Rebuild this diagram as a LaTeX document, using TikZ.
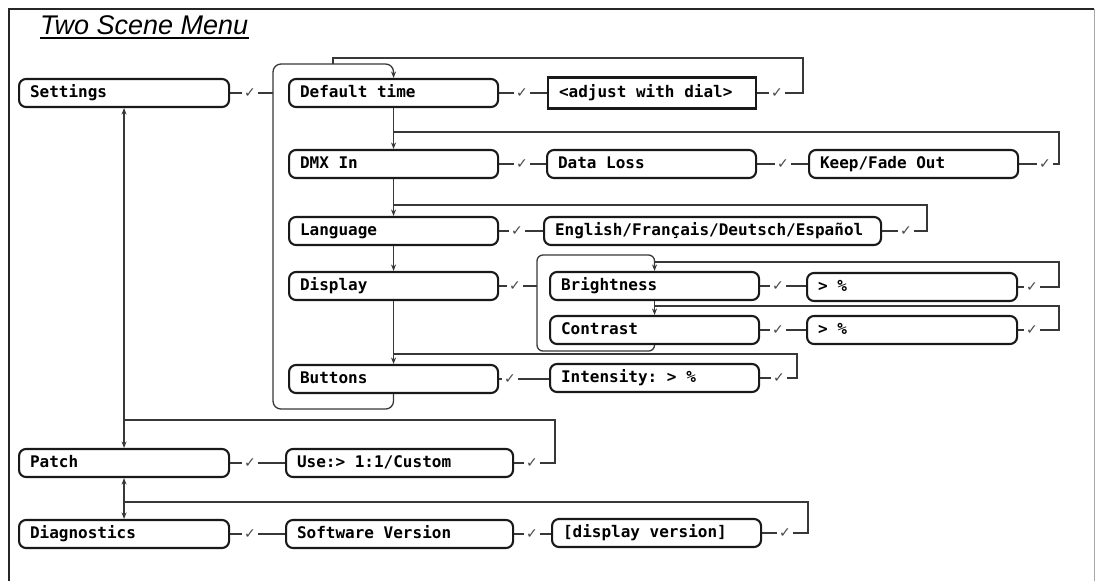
\documentclass[tikz,border=0pt]{standalone}
\usepackage{fontspec}
\setmainfont{Liberation Sans}
\newfontfamily\boxfont{DejaVu Sans Mono}
\newfontfamily\chkfont{DejaVu Sans}
\newcommand\bxf{\boxfont\bfseries\fontsize{16}{18}\selectfont}
\newcommand\fixsp{\spaceskip=9.63pt plus 0pt minus 0pt\relax\xspaceskip=9.63pt plus 0pt minus 0pt\relax}
\usetikzlibrary{arrows.meta}
\begin{document}
\begin{tikzpicture}[x=1pt,y=-1pt,
  mbox/.style={draw=black!90, line width=2.1pt, rounded corners=7pt, minimum height=28pt,
    text width=#1, inner xsep=11pt, inner ysep=0pt, align=left, anchor=west,
    text height=11pt, text depth=3pt, font=\bxf, execute at begin node=\fixsp},
  sbox/.style={mbox=#1, rounded corners=0pt, minimum height=31pt},
  conn/.style={draw=black!78, line width=1.3pt},
  arr/.style={conn, -{Stealth[length=6.5pt,width=5pt]}},
  darr/.style={conn, {Stealth[length=6.5pt,width=5pt]}-{Stealth[length=6.5pt,width=5pt]}},
  chk/.style={fill=white, inner xsep=2pt, inner ysep=1pt, text=black!72,
    font=\chkfont\fontsize{14}{14}\selectfont}
]
\useasboundingbox (0,0) rectangle (1096,581);
% frame
\draw[line width=2pt, black!85] (9,581) -- (9,9) -- (1094,9);
\draw[line width=1pt, black!35] (1094,9) -- (1094,581);
% title
\node[anchor=base west, inner sep=0pt, font=\itshape\fontsize{27}{29}\selectfont] (title) at (40,34) {Two Scene Menu};
\draw[line width=1.4pt] ([yshift=-3.8pt]title.base west) -- ([yshift=-3.8pt]title.base east);

% boxes
\node[mbox=188pt] (set)  at (18,93)  {Settings};
\node[mbox=187pt] (dt)   at (288,93) {Default time};
\node[sbox=186pt] (adj)  at (547,93) {<adjust with dial>};
\node[mbox=187pt] (dmx)  at (288,164) {DMX In};
\node[mbox=187pt] (dl)   at (546,164) {Data Loss};
\node[mbox=187pt] (kfo)  at (808,164) {Keep/Fade Out};
\node[mbox=187pt] (lang) at (288,231) {Language};
\node[mbox=315pt] (eng)  at (543,231) {English/Français/Deutsch/Español};
\node[mbox=187pt] (disp) at (288,286) {Display};
\node[mbox=187pt] (bri)  at (549,286) {Brightness};
\node[mbox=188pt] (pa)   at (806,287) {> \%};
\node[mbox=187pt] (cont) at (549,330) {Contrast};
\node[mbox=188pt] (pb)   at (806,330) {> \%};
\node[mbox=187pt] (but)  at (288,379) {Buttons};
\node[mbox=187pt] (int)  at (549,378) {Intensity: > \%};
\node[mbox=188pt] (pat)  at (18,463) {Patch};
\node[mbox=205pt] (use)  at (285,463) {Use:> 1:1/Custom};
\node[mbox=188pt] (diag) at (18,534) {Diagnostics};
\node[mbox=205pt] (sw)   at (285,534) {Software Version};
\node[mbox=187pt] (dv)   at (551,533) {[display version]};

% main bracket (Settings submenu)
\draw[arr, rounded corners=8pt] (but.south) -- ++(0,15) -| (273,64) -| (dt.north);
\draw[conn] (adj.east) -| (803,58) -| (333,64);
\draw[conn] (set.east) -- (set.east -| 273,0);
\node[chk] at (set.east -| 250,0) {✓};
\draw[conn] (dt.east) -- (adj.west);
\node[chk] at (dt.east -| 522,0) {✓};
\node[chk] at (adj.east -| 777,0) {✓};

% main column
\draw[arr] (dt.south) -- (dmx.north);
\draw[arr] (dmx.south) -- (lang.north);
\draw[arr] (lang.south) -- (disp.north);
\draw[arr] (disp.south) -- (but.north);

% DMX row
\draw[conn] (dmx.east) -- (dl.west);
\node[chk] at (dmx.east -| 522,0) {✓};
\draw[conn] (dl.east) -- (kfo.west);
\node[chk] at (dl.east -| 783,0) {✓};
\draw[conn] (kfo.east) -| (1059,132) -- (dt.south |- 0,132);
\node[chk] at (kfo.east -| 1045,0) {✓};

% Language row
\draw[conn] (lang.east) -- (eng.west);
\node[chk] at (lang.east -| 517,0) {✓};
\draw[conn] (eng.east) -| (927,205) -- (dt.south |- 0,205);
\node[chk] at (eng.east -| 906,0) {✓};

% Display sub-bracket
\draw[conn] (disp.east) -- (disp.east -| 537,0);
\node[chk] at (disp.east -| 515,0) {✓};
\draw[arr, rounded corners=6pt] (cont.south) -- ++(0,6) -| (537,255) -| (bri.north);
\draw[arr] (bri.south) -- (cont.north);
\draw[conn] (bri.east) -- (bri.east -| pa.west);
\node[chk] at (bri.east -| 778,0) {✓};
\draw[conn] (pa.east) -| (1059,262) -- (bri.north |- 0,262);
\node[chk] at (pa.east -| 1032,0) {✓};
\draw[conn] (cont.east) -- (pb.west);
\node[chk] at (cont.east -| 778,0) {✓};
\draw[conn] (pb.east) -| (1059,306) -- (cont.north |- 0,306);
\node[chk] at (pb.east -| 1032,0) {✓};

% Buttons row
\draw[conn] (but.east) -- (but.east -| int.west);
\node[chk] at (but.east -| 510,0) {✓};
\draw[conn] (int.east) -| (797,354) -- (dt.south |- 0,354);
\node[chk] at (int.east -| 779,0) {✓};

% Settings column
\draw[darr] (set.south) -- (pat.north);
\draw[conn] (pat.east) -- (use.west);
\node[chk] at (pat.east -| 250,0) {✓};
\draw[conn] (use.east) -| (555,420) -- (set.south |- 0,420);
\node[chk] at (use.east -| 532,0) {✓};

\draw[darr] (pat.south) -- (diag.north);
\draw[conn] (diag.east) -- (sw.west);
\node[chk] at (diag.east -| 250,0) {✓};
\draw[conn] (sw.east) -- (sw.east -| dv.west);
\node[chk] at (sw.east -| 532,0) {✓};
\draw[conn] (dv.east) -| (808,502) -- (set.south |- 0,502);
\node[chk] at (dv.east -| 785,0) {✓};
\end{tikzpicture}
\end{document}
